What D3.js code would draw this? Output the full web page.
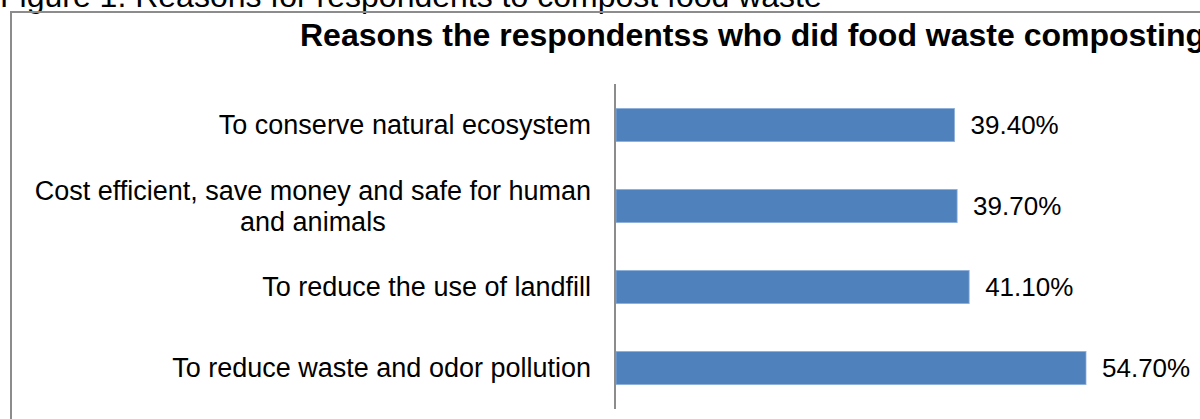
<!DOCTYPE html>
<html><head><meta charset="utf-8">
<script src="https://cdn.jsdelivr.net/npm/d3@7"></script>
<style>html,body{margin:0;padding:0;background:#fff;overflow:hidden}</style>
</head><body>
<svg id="c" width="1200" height="419"></svg>
<script>
const categories = [
  ["To conserve natural ecosystem"],
  ["Cost efficient, save money and safe for human", "and animals"],
  ["To reduce the use of landfill"],
  ["To reduce waste and odor pollution"]
];
const values = [39.4, 39.7, 41.1, 54.7];
const valueLabels = ["39.40%", "39.70%", "41.10%", "54.70%"];
const captionText = "Figure 1. Reasons for respondents to compost food waste";
const titleText = "Reasons the respondentss who did food waste composting";

const svg = d3.select("#c");
const font = "'Liberation Sans', Arial, sans-serif";

svg.append("text").attr("x", 0).attr("y", 7).attr("font-family", font)
  .attr("font-size", 32).attr("fill", "#000").text(captionText);

// chart border
svg.append("path").attr("d", "M11,430V12H1205").attr("fill", "none")
  .attr("stroke", "#8c8c8c").attr("stroke-width", 2);

svg.append("text").attr("x", 300).attr("y", 46).attr("font-family", font)
  .attr("font-weight", "bold").attr("font-size", 32).attr("fill", "#000").text(titleText);

const idx = d3.range(values.length);
const y = d3.scaleBand().domain(idx).range([84.5, 408.5]).paddingInner(0.59).paddingOuter(0.295);
const x = d3.scaleLinear().domain([0, 54.7]).range([616, 1086]);

svg.append("g").selectAll("rect").data(idx).join("rect")
  .attr("x", x(0)).attr("y", i => y(i))
  .attr("width", i => x(values[i]) - x(0)).attr("height", y.bandwidth())
  .attr("fill", "#4F81BD").attr("stroke", "#8fb0d9").attr("stroke-width", 0.8);

svg.append("line").attr("x1", 615).attr("x2", 615).attr("y1", 84).attr("y2", 409)
  .attr("stroke", "#8c8c8c").attr("stroke-width", 2);

svg.append("g").selectAll("text").data(idx).join("text")
  .attr("x", i => x(values[i]) + 16).attr("y", i => y(i) + y.bandwidth() / 2 + 9)
  .attr("font-family", font).attr("font-size", 26).attr("fill", "#000")
  .text(i => valueLabels[i]);

const lab = svg.append("g").selectAll("text").data(idx).join("text")
  .attr("font-family", font).attr("font-size", 27).attr("fill", "#000");
lab.each(function(i) {
  const lines = categories[i];
  const t = d3.select(this);
  const cy = y(i) + y.bandwidth() / 2;
  if (lines.length === 1) {
    t.attr("text-anchor", "end").attr("x", 591).attr("y", cy + 9).text(lines[0]);
  } else {
    const tmp = svg.append("text").attr("font-family", font).attr("font-size", 27).text(lines[0]);
    const w = tmp.node().getComputedTextLength(); tmp.remove();
    const cx = 591 - w / 2;
    lines.forEach((ln, k) => {
      t.append("tspan").attr("x", cx).attr("text-anchor", "middle")
        .attr("y", cy + 9 + (k - (lines.length - 1) / 2) * 31).text(ln);
    });
  }
});
</script>
</body></html>
